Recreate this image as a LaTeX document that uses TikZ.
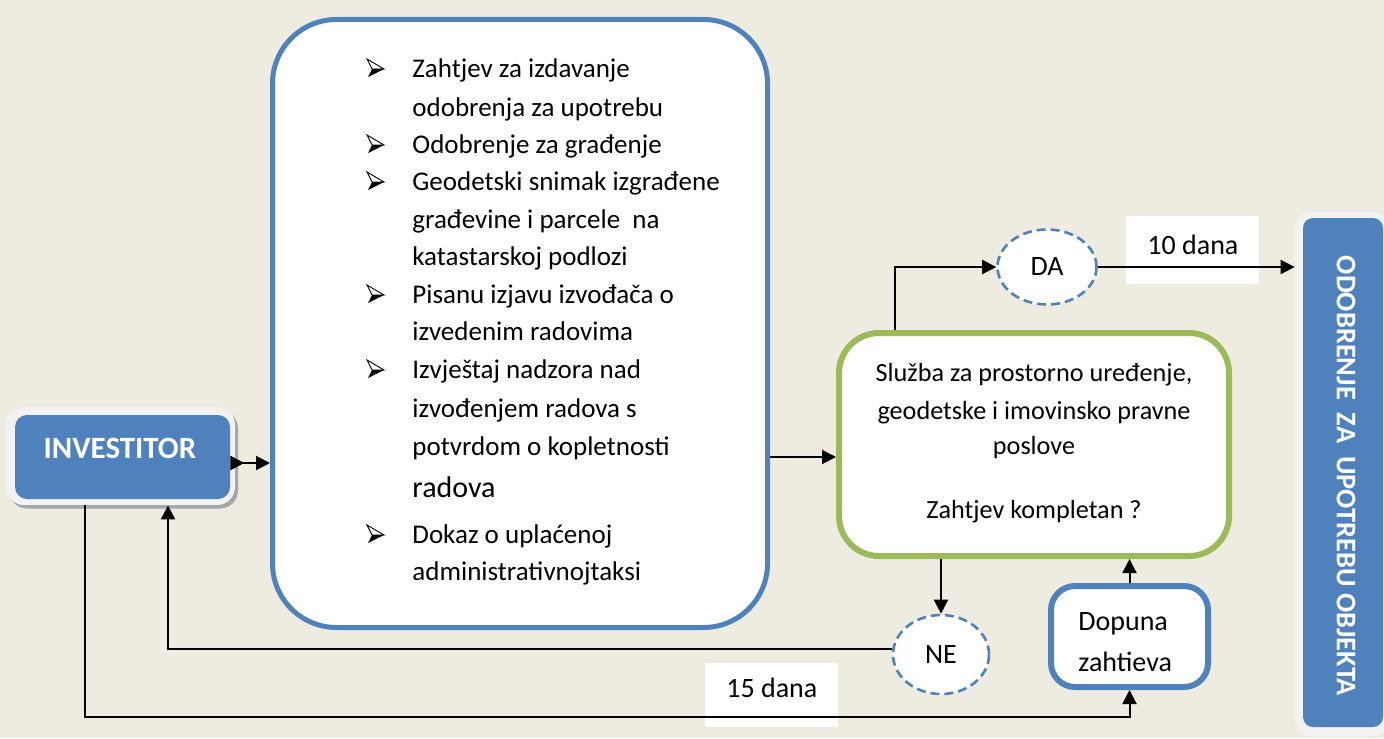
\documentclass[tikz,border=0pt]{standalone}
\usepackage{fontspec}
\setmainfont{Carlito}
\usetikzlibrary{arrows.meta,shapes.geometric}
\definecolor{bg}{HTML}{EEECE1}
\definecolor{ablue}{HTML}{4F81BD}
\definecolor{agreen}{HTML}{9BBB59}
\definecolor{framec}{HTML}{F2F2F2}
\definecolor{shade}{HTML}{A5A5A5}
\begin{document}
\begin{tikzpicture}[x=0.5pt,y=-0.5pt,
  conn/.style={line width=1pt,-{Triangle[length=7pt,width=7pt]}},
  txt/.style={inner sep=0pt,anchor=base west,font=\fontsize{13.5}{15}\selectfont},
  ctxt/.style={inner sep=0pt,anchor=base,font=\fontsize{13.1}{15}\selectfont},
  btxt/.style={inner sep=0pt,anchor=base west,font=\fontsize{14}{16}\selectfont},
  dashell/.style={ellipse,draw=ablue,fill=white,line width=1.3pt,dash pattern=on 4.5pt off 2.5pt,inner sep=0pt,font=\fontsize{14}{16}\selectfont},
  labelbox/.style={fill=white,inner sep=0pt},
  arrbul/.pic={
    \draw[line width=0.45pt,fill=white,line join=miter] (0,-18) -- (17,-8) -- (5,-8) -- cycle;
    \fill[black] (5,-8) -- (17,-8) -- (1,0) -- cycle;
  }
]
\useasboundingbox (0,0) rectangle (1384,738);
\fill[bg] (0,0) rectangle (1384,738);

% white label boxes
\node[labelbox,minimum width=66.5pt,minimum height=34pt] (tenbox) at (1192.5,250) {};
\node[labelbox,minimum width=66.5pt,minimum height=32pt] (fifbox) at (771.5,695) {};
\node[btxt] (tentext) at (1147,254) {10 dana};
\node[btxt] (fiftext) at (726,697) {15 dana};

% INVESTITOR
\node[fill=shade,rounded corners=9pt,minimum width=114.5pt,minimum height=49pt,inner sep=0pt] (invshadow) at (123.5,459.5) {};
\node[fill=framec,rounded corners=9pt,minimum width=114.5pt,minimum height=49pt,inner sep=0pt] (invframe) at (120.5,456) {};
\node[fill=ablue,rounded corners=6pt,minimum width=107.5pt,minimum height=42pt,inner sep=0pt] (invblue) at (122.5,457) {};
\node[inner sep=0pt,anchor=base,text=white,font=\bfseries\fontsize{15.5}{18}\selectfont] (invtext) at (120,458) {INVESTITOR};

% main list box
\node[draw=ablue,line width=2.5pt,fill=white,rounded corners=32pt,minimum width=247.5pt,minimum height=304pt,inner sep=0pt] (main) at (520,323.5) {};
\pic at (367,77) {arrbul};
\pic at (367,153) {arrbul};
\pic at (367,190) {arrbul};
\pic at (367,303) {arrbul};
\pic at (367,378) {arrbul};
\pic at (367,543) {arrbul};
\node[txt] (l1) at (412,77) {Zahtjev za izdavanje};
\node[txt] (l2) at (412,116) {odobrenja za upotrebu};
\node[txt] (l3) at (412,153) {Odobrenje za građenje};
\node[txt] (l4) at (412,190) {Geodetski snimak izgrađene};
\node[txt] (l5) at (412,228) {građevine i parcele\ \ na};
\node[txt] (l6) at (412,265) {katastarskoj podlozi};
\node[txt] (l7) at (412,303) {Pisanu izjavu izvođača o};
\node[txt] (l8) at (412,340) {izvedenim radovima};
\node[txt] (l9) at (412,378) {Izvještaj nadzora nad};
\node[txt] (l10) at (412,417) {izvođenjem radova s};
\node[txt] (l11) at (412,455) {potvrdom o kopletnosti};
\node[txt,font=\fontsize{15}{17}\selectfont] (l12) at (412,497) {radova};
\node[txt] (l13) at (412,543) {Dokaz o uplaćenoj};
\node[txt] (l14) at (412,580) {administrativnojtaksi};

% green decision box
\node[draw=agreen,line width=3pt,fill=white,rounded corners=20pt,minimum width=195pt,minimum height=111.5pt,inner sep=0pt] (green) at (1034,444.5) {};
\node[ctxt] (g1) at (1034,381) {Služba za prostorno uređenje,};
\node[ctxt] (g2) at (1034,419) {geodetske i imovinsko pravne};
\node[ctxt] (g3) at (1034,454) {poslove};
\node[ctxt] (g4) at (1034,518) {Zahtjev kompletan ?};

% DA / NE
\node[dashell,minimum width=49.5pt,minimum height=37.5pt] (DA) at (1047,267) {DA};
\node[dashell,minimum width=48pt,minimum height=39.5pt] (NE) at (941,654.5) {NE};

% Dopuna
\node[draw=ablue,line width=3pt,fill=white,rounded corners=12pt,minimum width=78.5pt,minimum height=50.5pt,inner sep=0pt] (dop) at (1129.5,636.5) {};
\node[btxt] (d1) at (1078,630) {Dopuna};
\node[btxt] (d2) at (1078,671) {zahtieva};

% ODOBRENJE
\node[fill=framec,rounded corners=8pt,minimum width=47.5pt,minimum height=262pt,inner sep=0pt] (odframe) at (1342.5,474) {};
\node[fill=ablue,rounded corners=5pt,minimum width=40pt,minimum height=254.5pt,inner sep=0pt] (odblue) at (1343,472.5) {};
\node[rotate=-90,inner sep=0pt,text=white,font=\bfseries\fontsize{14.2}{17}\selectfont] (odtext) at (1346,476) {ODOBRENJE\ \ ZA\ \ UPOTREBU OBJEKTA};

% connectors
\draw[line width=1pt,{Triangle[reversed,length=7pt,width=7pt]}-{Triangle[length=7pt,width=7pt]}] (invblue.east |- 0,463) -- (main.west |- 0,463);
\draw[conn] (main.east |- 0,457) -- (green.west |- 0,457);
\draw[conn] (green.north -| 895,0) |- (DA.west);
\draw[conn] (DA.east) -- (odframe.west |- DA.east);
\draw[conn] (green.south -| NE.north) -- (NE.north);
\draw[conn] (NE.west |- 0,649) -| (invframe.south -| 168,0);
\draw[conn] (invframe.south -| 85,0) |- (dop.south |- 0,717) -- (dop.south);
\draw[conn] (dop.north) -- (green.south -| dop.north);
\end{tikzpicture}
\end{document}
